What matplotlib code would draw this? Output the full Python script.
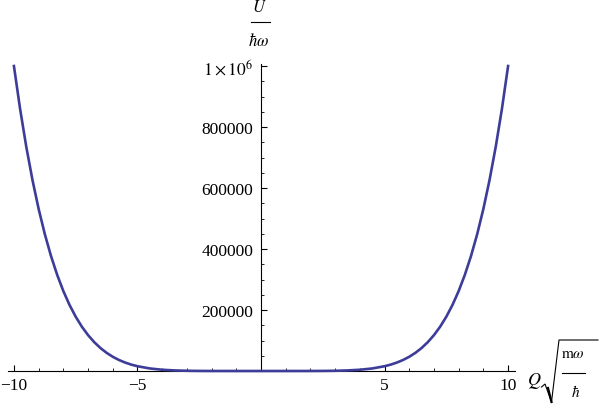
import matplotlib
matplotlib.use("Agg")
import matplotlib.pyplot as plt
from matplotlib.ticker import FixedLocator, FixedFormatter, MultipleLocator
from matplotlib.lines import Line2D

plt.rcParams['font.family'] = ['Liberation Serif', 'DejaVu Serif']
plt.rcParams['mathtext.fontset'] = 'stix'

# Curve samples (U / hbar*omega versus Q*sqrt(m*omega/hbar))
q_values = [-10, -9.75, -9.5, -9.25, -9, -8.75, -8.5, -8.25, -8, -7.75, -7.5, -7.25,
            -7, -6.75, -6.5, -6.25, -6, -5.75, -5.5, -5.25, -5, -4.5, -4, -3.5, -3,
            -2.5, -2, -1.5, -1, -0.5, 0, 0.5, 1, 1.5, 2, 2.5, 3, 3.5, 4, 4.5, 5,
            5.25, 5.5, 5.75, 6, 6.25, 6.5, 6.75, 7, 7.25, 7.5, 7.75, 8, 8.25, 8.5,
            8.75, 9, 9.25, 9.5, 9.75, 10]
u_values = [1000000, 859068, 735092, 626398, 531441, 448795, 377150, 315300, 262144,
            216675, 177979, 145221, 117649, 94585, 75419, 59605, 46656, 36141, 27681,
            20939, 15625, 8304, 4096, 1838, 729, 244, 64, 11, 1, 0, 0, 0, 1, 11, 64,
            244, 729, 1838, 4096, 8304, 15625, 20939, 27681, 36141, 46656, 59605,
            75419, 94585, 117649, 145221, 177979, 216675, 262144, 315300, 377150,
            448795, 531441, 626398, 735092, 859068, 1000000]

x_major_ticks = [-10, -5, 5, 10]
x_tick_labels = ["\u221210", "\u22125", "5", "10"]
y_major_ticks = [200000, 400000, 600000, 800000, 1000000]
y_tick_labels = ["200000", "400000", "600000", "800000", r"$1\times10^{6}$"]

W, H = 605, 410
fig = plt.figure(figsize=(W / 100, H / 100), dpi=100)
left_px, right_px, top_px, bottom_px = 8, 515, 65, 372
ax = fig.add_axes([left_px / W, 1 - bottom_px / H,
                   (right_px - left_px) / W, (bottom_px - top_px) / H])

ax.plot(q_values, u_values, color='#3d3d99', lw=1.9, clip_on=False, zorder=3)

ax.set_xlim(-10.24, 10.28)
ax.set_ylim(0, 1.0066e6)

for s in ['top', 'right']:
    ax.spines[s].set_visible(False)
ax.spines['left'].set_position(('data', 0))
ax.spines['bottom'].set_position(('data', 0))
ax.spines['left'].set_linewidth(0.8)
ax.spines['bottom'].set_linewidth(0.8)

ax.xaxis.set_major_locator(FixedLocator(x_major_ticks))
ax.xaxis.set_major_formatter(FixedFormatter(x_tick_labels))
ax.xaxis.set_minor_locator(MultipleLocator(1))
ax.yaxis.set_major_locator(FixedLocator(y_major_ticks))
ax.yaxis.set_major_formatter(FixedFormatter(y_tick_labels))
ax.yaxis.set_minor_locator(MultipleLocator(50000))

ax.tick_params(axis='x', which='major', direction='in', length=4.5, width=0.8,
               labelsize=12.5, pad=4)
ax.tick_params(axis='x', which='minor', direction='in', length=2.5, width=0.6)
ax.tick_params(axis='y', which='major', direction='in', length=4.5, width=0.8,
               labelsize=12.5, pad=5.5)
ax.tick_params(axis='y', which='minor', direction='in', length=2.5, width=0.6)

def px(x, y):
    return x / W, 1 - y / H

# y-axis label: U over hbar omega
fig.text(*px(259, 8), r'$U$', ha='center', va='center', fontsize=12)
fig.add_artist(Line2D([251 / W, 270 / W], [1 - 23 / H, 1 - 23 / H],
                      color='black', lw=0.8, transform=fig.transFigure))
fig.text(*px(259, 42), r'$\hbar\omega$', ha='center', va='center', fontsize=12)

# x-axis label: Q sqrt(m omega / hbar)
fig.text(*px(534, 381), r'$Q$', ha='center', va='center', fontsize=13)
rad_x = [541.5, 545, 551.5, 559, 598]
rad_y = [388, 385, 403, 341, 341]
fig.add_artist(Line2D([x / W for x in rad_x], [1 - y / H for y in rad_y],
                      color='black', lw=0.8, transform=fig.transFigure,
                      solid_joinstyle='miter'))
fig.add_artist(Line2D([548 / W, 551.5 / W], [1 - 389 / H, 1 - 403 / H],
                      color='black', lw=1.6, transform=fig.transFigure))
fig.text(*px(573, 355), r'$\mathrm{m}\omega$', ha='center', va='center', fontsize=11)
fig.add_artist(Line2D([562 / W, 585 / W], [1 - 374 / H, 1 - 374 / H],
                      color='black', lw=0.8, transform=fig.transFigure))
fig.text(*px(576, 392), r'$\hbar$', ha='center', va='center', fontsize=11)

fig.savefig('out.png', dpi=100)
